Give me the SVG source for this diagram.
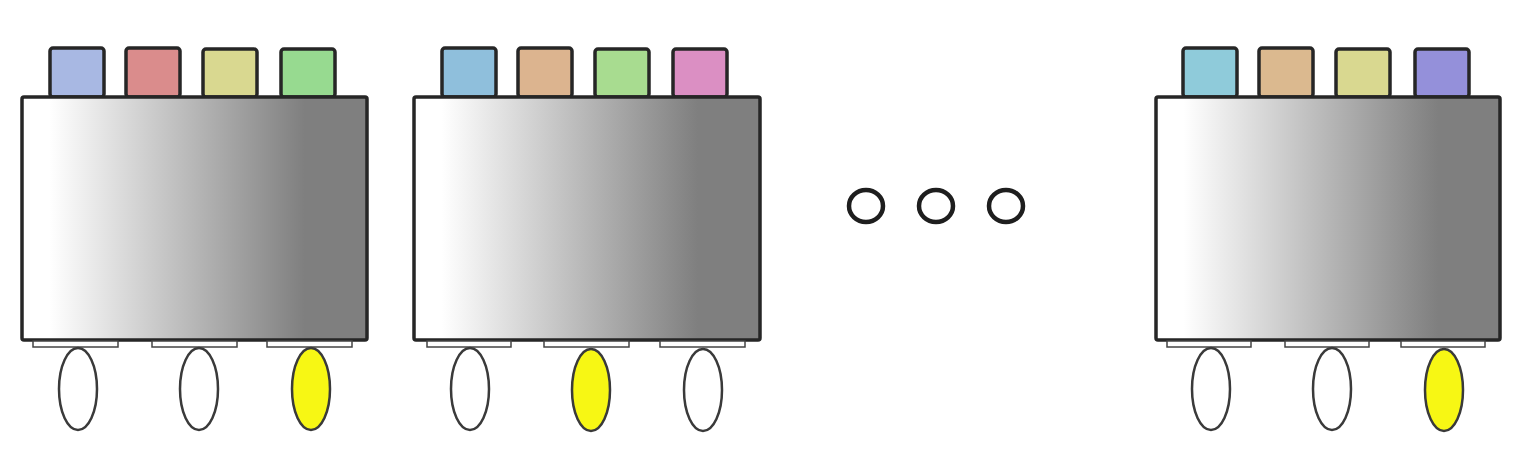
<svg xmlns="http://www.w3.org/2000/svg" width="1516" height="469" viewBox="0 0 1516 469">
<defs>
<linearGradient id="g" x1="0" y1="0" x2="1" y2="0">
<stop offset="0.08" stop-color="#ffffff"/>
<stop offset="0.82" stop-color="#7f7f7f"/>
</linearGradient>
<style>
.box{fill:url(#g);stroke:#262626;stroke-width:3.5}
.sq{stroke:#262626;stroke-width:3.5}
.tab{fill:#ffffff;stroke:#444;stroke-width:1.5}
.el{fill:#ffffff;stroke:#3a3a3a;stroke-width:2.5}
.y{fill:#f7f714}
.dot{fill:none;stroke:#1e1e1e;stroke-width:4.5}
</style>
</defs>
<g id="node1">
<rect class="sq" x="50" y="48" width="54" height="49" rx="3" fill="#a8b8e3"/>
<rect class="sq" x="126" y="48" width="54" height="49" rx="3" fill="#da8c8c"/>
<rect class="sq" x="203" y="49" width="54" height="48" rx="3" fill="#d9d890"/>
<rect class="sq" x="281" y="49" width="54" height="48" rx="3" fill="#97da90"/>
<rect class="box" x="22" y="97" width="345" height="243" rx="2"/>
<rect class="tab" x="33" y="341" width="85" height="6"/>
<rect class="tab" x="152" y="341" width="85" height="6"/>
<rect class="tab" x="267" y="341" width="85" height="6"/>
<ellipse class="el" cx="78" cy="389" rx="19" ry="41"/>
<ellipse class="el" cx="199" cy="389" rx="19" ry="41"/>
<ellipse class="el y" cx="311" cy="389" rx="19" ry="41"/>
</g>
<g id="node2">
<rect class="sq" x="442" y="48" width="54" height="49" rx="3" fill="#8fbfdc"/>
<rect class="sq" x="518" y="48" width="54" height="49" rx="3" fill="#dcb48f"/>
<rect class="sq" x="595" y="49" width="54" height="48" rx="3" fill="#a8dc90"/>
<rect class="sq" x="673" y="49" width="54" height="48" rx="3" fill="#db8fc3"/>
<rect class="box" x="414" y="97" width="346" height="243" rx="2"/>
<rect class="tab" x="427" y="341" width="84" height="6"/>
<rect class="tab" x="544" y="341" width="85" height="6"/>
<rect class="tab" x="660" y="341" width="85" height="6"/>
<ellipse class="el" cx="470" cy="389" rx="19" ry="41"/>
<ellipse class="el y" cx="591" cy="390" rx="19" ry="41"/>
<ellipse class="el" cx="703" cy="390" rx="19" ry="41"/>
</g>
<g id="ellipsis">
<ellipse class="dot" cx="866" cy="206" rx="17" ry="16"/>
<ellipse class="dot" cx="936" cy="206" rx="17" ry="16"/>
<ellipse class="dot" cx="1006" cy="206" rx="17" ry="16"/>
</g>
<g id="node3">
<rect class="sq" x="1183" y="48" width="54" height="49" rx="3" fill="#8fcbda"/>
<rect class="sq" x="1259" y="48" width="54" height="49" rx="3" fill="#dbb98f"/>
<rect class="sq" x="1336" y="49" width="54" height="48" rx="3" fill="#d9d890"/>
<rect class="sq" x="1415" y="49" width="54" height="48" rx="3" fill="#9490da"/>
<rect class="box" x="1156" y="97" width="344" height="243" rx="2"/>
<rect class="tab" x="1167" y="341" width="84" height="6"/>
<rect class="tab" x="1285" y="341" width="84" height="6"/>
<rect class="tab" x="1401" y="341" width="84" height="6"/>
<ellipse class="el" cx="1211" cy="389" rx="19" ry="41"/>
<ellipse class="el" cx="1332" cy="389" rx="19" ry="41"/>
<ellipse class="el y" cx="1444" cy="390" rx="19" ry="41"/>
</g>
<g id="connectors"/>
</svg>
